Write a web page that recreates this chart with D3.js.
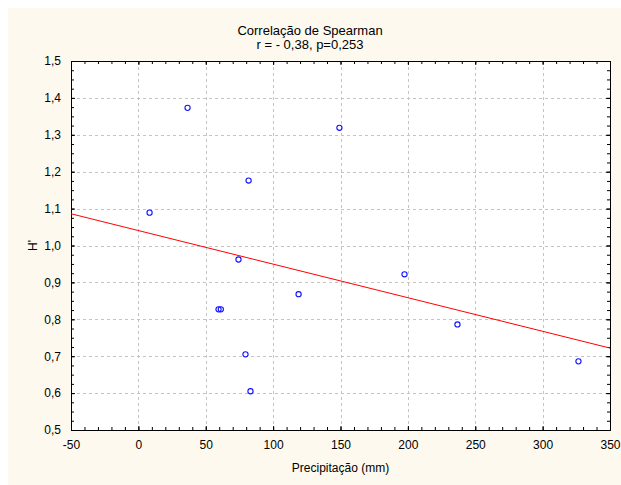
<!DOCTYPE html>
<html><head><meta charset="utf-8">
<script src="https://cdn.jsdelivr.net/npm/d3@7"></script>
<style>body{margin:0;background:#fff}svg{display:block}text{font-family:"Liberation Sans",Arial,sans-serif}</style>
</head><body>
<svg id="c" width="621" height="485"></svg>
<script>
const title1 = "Correlação de Spearman";
const title2 = "r = - 0,38,  p=0,253";
const xLabel = "Precipitação (mm)";
const yLabel = "H'";
const precip = [36.5, 149.2, 81.8, 8.3, 74.3, 197.5, 59.5, 61.2, 118.9, 79.5, 83.2, 236.8, 326.6];
const hIndex = [1.373, 1.319, 1.176, 1.089, 0.962, 0.922, 0.827, 0.827, 0.868, 0.705, 0.605, 0.786, 0.686];
const xTicks = [-50, 0, 50, 100, 150, 200, 250, 300, 350];
const yTicks = [0.5, 0.6, 0.7, 0.8, 0.9, 1.0, 1.1, 1.2, 1.3, 1.4, 1.5];
const fitIntercept = 1.0405, fitSlope = -0.00091;

const svg = d3.select("#c");
const L = 71, R = 610, T = 61, B = 430;
const x = d3.scaleLinear().domain([-50, 350]).range([L, R]);
const y = d3.scaleLinear().domain([0.5, 1.5]).range([B, T]);
const fmt = d => d.toFixed(1).replace(".", ",");

svg.append("rect").attr("x", 8).attr("y", 8).attr("width", 613).attr("height", 477).attr("fill", "#fdf9ee");
svg.append("rect").attr("x", L).attr("y", T).attr("width", R - L).attr("height", B - T).attr("fill", "#fff");

// grid
const g = svg.append("g").attr("stroke", "#c4c4c4").attr("stroke-dasharray", "3,3").attr("stroke-width", 1);
xTicks.slice(1, -1).forEach(v => g.append("line").attr("x1", Math.round(x(v)) + 0.5).attr("x2", Math.round(x(v)) + 0.5).attr("y1", T).attr("y2", B));
yTicks.slice(1, -1).forEach(v => g.append("line").attr("y1", Math.round(y(v)) + 0.5).attr("y2", Math.round(y(v)) + 0.5).attr("x1", L).attr("x2", R));

// axes with inward ticks
function addAxis(axisGen, tx, ty, minorGen) {
  const a = svg.append("g").attr("transform", `translate(${tx},${ty})`);
  a.call(minorGen);
  a.selectAll("text").remove();
  a.select(".domain").remove();
  const m = svg.append("g").attr("transform", `translate(${tx},${ty})`).call(axisGen);
  m.select(".domain").attr("stroke", "#000");
  return m;
}
const xMinor = d3.range(-50, 351, 10), yMinor = d3.range(0, 41).map(i => 0.5 + i * 0.025);
addAxis(d3.axisBottom(x).tickValues(xTicks).tickSize(-4).tickPadding(10).tickFormat(d => d), 0, B, d3.axisBottom(x).tickValues(xMinor).tickSize(-3));
addAxis(d3.axisTop(x).tickValues(xTicks).tickSize(-4).tickFormat(""), 0, T, d3.axisTop(x).tickValues(xMinor).tickSize(-3).tickFormat(""));
addAxis(d3.axisLeft(y).tickValues(yTicks).tickSize(-4).tickPadding(10).tickFormat(fmt), L, 0, d3.axisLeft(y).tickValues(yMinor).tickSize(-3));
addAxis(d3.axisRight(y).tickValues(yTicks).tickSize(-4).tickFormat(""), R, 0, d3.axisRight(y).tickValues(yMinor).tickSize(-3).tickFormat(""));
svg.selectAll(".tick text").attr("font-size", 12).attr("fill", "#000").attr("font-family", "Liberation Sans, Arial, sans-serif");
svg.selectAll(".tick line").attr("stroke", "#000");

// regression line
svg.append("line")
  .attr("x1", x(-50)).attr("y1", y(fitIntercept + fitSlope * -50))
  .attr("x2", x(350)).attr("y2", y(fitIntercept + fitSlope * 350))
  .attr("stroke", "#ff0000").attr("stroke-width", 1);

// points
svg.append("g").selectAll("circle").data(precip.map((p, i) => [p, hIndex[i]])).join("circle")
  .attr("cx", d => x(d[0])).attr("cy", d => y(d[1])).attr("r", 2.6)
  .attr("fill", "none").attr("stroke", "#1010ff").attr("stroke-width", 1.1);

// titles
svg.append("text").attr("x", 310).attr("y", 35).attr("text-anchor", "middle").attr("font-size", 13).text(title1);
svg.append("text").attr("x", 310).attr("y", 49).attr("text-anchor", "middle").attr("font-size", 13).text(title2);
svg.append("text").attr("x", (L + R) / 2).attr("y", 472).attr("text-anchor", "middle").attr("font-size", 12).text(xLabel);
svg.append("text").attr("transform", `translate(37,${(T + B) / 2}) rotate(-90)`).attr("text-anchor", "middle").attr("font-size", 12).text(yLabel);
</script>
</body></html>
